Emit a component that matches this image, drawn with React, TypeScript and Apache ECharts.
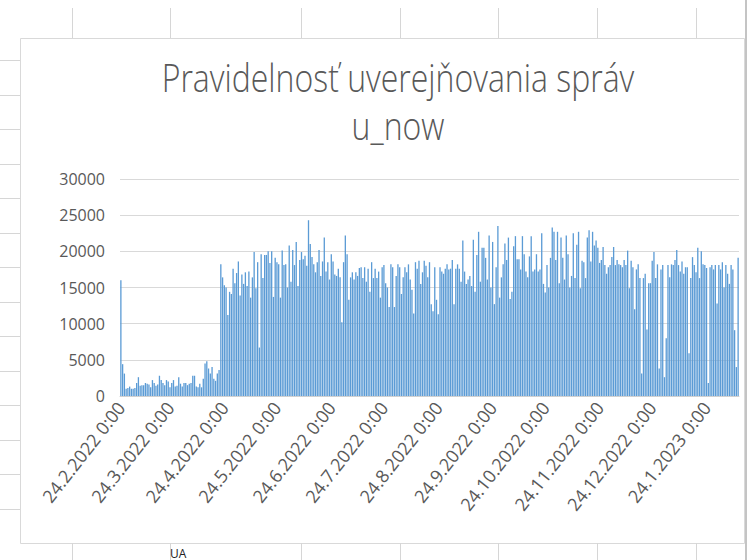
import React, { useEffect, useRef } from "react";
import * as echarts from "echarts";

// Daily message counts from 24.2.2022 (segment by segment)
const lowPeriod = [
  16000, 4400, 3100, 1000, 1100, 1300, 1000, 1000, 1100, 1800,
  2600, 1400, 1500, 1500, 1800, 1700, 1600, 1200, 2200, 1800,
  1400, 1600, 2800, 2200, 1800, 1500, 2200, 2000, 1200, 1800,
  2200, 1300, 1400, 2600, 1700, 1300, 1800, 1800, 1500, 1700,
  1800, 2800, 2800, 1300, 1200, 1700, 1200, 2400, 4500, 4800,
  3800, 3100, 4000, 2400, 2100, 3100, 3600,
];
const aprMay = [
  18200, 16400, 15300, 15000, 11200, 14400, 14100, 17600, 15600, 17000,
  18600, 13900, 16800, 15500, 17100, 15200, 17200, 13600, 16400, 19900,
  14900, 18500, 6700, 19600, 16300, 19500, 19500, 20000, 18400, 20000,
  13700,
];
const mayJul = [
  19100, 18500, 18200, 13600, 20100, 18100, 18200, 15000, 20800, 15800,
  20200, 18100, 21300, 15200, 18800, 19900, 18900, 19400, 18000, 24300,
  21000, 19200, 18200, 17100, 18500, 20200, 16600, 18600, 21900, 17200,
  18500, 16100, 19600, 18600, 16800, 16600, 17600, 16400, 10200, 18500,
  22200, 19600, 13300, 16400,
];
const julAug = [
  17100, 16100, 17100, 16600, 17700, 17800, 16300, 17800, 15800, 17600,
  14400, 18500, 16300, 17600, 16300, 17200, 13600, 17800, 18100, 15600,
  15000, 12300, 18200, 17800, 12300, 16600, 18200, 17800, 14100, 16400,
  17800, 17100, 18200, 16100, 14700, 11400, 18500, 17600, 18700, 15500,
  17100, 18700, 18000, 16400, 18500,
];
const augOct = [
  12700, 11700, 17800, 13300, 11300, 17800, 17200, 16900, 17600, 18200,
  17500, 17600, 18800, 12700, 17600, 18200, 17600, 15800, 21500, 17200,
  15500, 16100, 16600, 15200, 21600, 14400, 19500, 22700, 15800, 20500,
  20500, 19100, 16100, 22200, 15000, 21300, 12700, 17800, 23500, 13600,
  16400, 18200, 21100, 18800, 21900,
];
const octNov = [
  13400, 14400, 20700, 22100, 18900, 18900, 17500, 22100, 19600, 17200,
  16400, 19300, 22100, 17200, 17500, 19600, 17200, 17500, 22500, 15500,
  14300, 18100, 15000, 19100, 23300, 22700, 18800, 22700, 15600, 21900,
  19100, 16100, 22200, 19600, 15000, 16600, 22500, 16300, 20900, 22700,
  14900, 18700, 18500, 16300,
];
const novDec = [
  21900, 22900, 18600, 22700, 20800, 21500, 20500, 18400, 18800, 20600,
  18100, 16900, 17800, 18100, 19200, 20600, 18100, 18800, 18200, 18100,
  17800, 18800, 18100, 20100, 14900, 18700, 17800, 12000, 17500, 18200,
  16300, 3100, 16300, 16900, 9200, 15600, 15600, 18700, 19900, 16300,
  18200, 3800, 17500, 18100, 2600,
];
const decFeb = [
  8000, 18100, 16400, 18200, 18100, 18800, 20200, 18100, 17200, 18600,
  16900, 17800, 17800, 5900, 16300, 19200, 18100, 17100, 20500, 16300,
  20000, 18200, 18100, 17700, 1800, 17800, 18100, 17500, 18100, 12800,
  18100, 17500, 18500, 15000, 18100, 16900, 15500, 18100, 17500, 9100,
  4000, 19100,
];

const values = [
  ...lowPeriod, ...aprMay, ...mayJul, ...julAug,
  ...augOct, ...octNov, ...novDec, ...decFeb,
];

const START = { year: 2022, month: 2, day: 24 };
const yTicks = [0, 5000, 10000, 15000, 20000, 25000, 30000];
const titleLines = ["Pravidelnosť uverejňovania správ", "u_now"];

const categories = values.map((_, i) => {
  const d = new Date(START.year, START.month - 1, START.day + i);
  return `${d.getDate()}.${d.getMonth() + 1}.${d.getFullYear()} 0:00`;
});
const isMonthTick = (_i: number, v: string) => v.startsWith("24.");

// spreadsheet decoration positions
const colLines = [72, 170, 301, 400, 498, 597, 696];
const rowLines = [60, 95, 129, 164, 198, 233, 267, 302, 336, 371, 405, 440, 474, 509];

export default function App() {
  const ref = useRef<HTMLDivElement>(null);
  useEffect(() => {
    if (!ref.current) return;
    const chart = echarts.init(ref.current, null, { renderer: "svg" });
    const cellLine = { stroke: "#d6d6d6", lineWidth: 1 };
    const graphics: any[] = [];
    colLines.forEach((x) => {
      graphics.push({ type: "line", shape: { x1: x + 0.5, y1: 8, x2: x + 0.5, y2: 38 }, style: cellLine, silent: true });
      graphics.push({ type: "line", shape: { x1: x + 0.5, y1: 543, x2: x + 0.5, y2: 560 }, style: cellLine, silent: true });
    });
    rowLines.forEach((y) => {
      graphics.push({ type: "line", shape: { x1: 0, y1: y + 0.5, x2: 20, y2: y + 0.5 }, style: cellLine, silent: true });
    });
    graphics.push({
      type: "rect",
      shape: { x: 20.5, y: 38.5, width: 724, height: 505 },
      style: { fill: "none", stroke: "#d9d9d9", lineWidth: 1 },
      silent: true,
      z: -1,
    });
    graphics.push({
      type: "line",
      shape: { x1: 746, y1: 0, x2: 746, y2: 560 },
      style: { stroke: "#c4c4c4", lineWidth: 2 },
      silent: true,
    });
    graphics.push({
      type: "text",
      x: 170,
      y: 547,
      style: { text: "UA", fill: "#222", font: "12px 'Open Sans', sans-serif" },
      silent: true,
    });
    const titleY = [77, 125];
    titleLines.forEach((t, i) => {
      graphics.push({
        type: "text",
        x: 398,
        y: titleY[i],
        scaleY: 1.22,
        style: {
          text: t,
          align: "center",
          verticalAlign: "middle",
          fill: "#595959",
          font: "300 32px 'Open Sans', sans-serif",
        },
        silent: true,
      });
    });

    chart.setOption({
      animation: false,
      backgroundColor: "#ffffff",
      graphic: graphics,
      grid: { left: 120, right: 13, top: 179, bottom: 164 },
      xAxis: {
        type: "category",
        data: categories,
        boundaryGap: true,
        axisLine: { lineStyle: { color: "#d0d0d0", width: 1 } },
        axisTick: {
          interval: isMonthTick,
          alignWithLabel: true,
          length: 5,
          lineStyle: { color: "#d0d0d0" },
        },
        axisLabel: {
          interval: isMonthTick,
          rotate: 52,
          margin: 8,
          color: "#595959",
          fontFamily: "'Open Sans', sans-serif",
          fontSize: 18,
        },
        splitLine: { show: false },
      },
      yAxis: {
        type: "value",
        min: yTicks[0],
        max: yTicks[yTicks.length - 1],
        interval: 5000,
        axisLine: { show: false },
        axisTick: { show: false },
        axisLabel: {
          margin: 15,
          color: "#595959",
          fontFamily: "'Open Sans', sans-serif",
          fontSize: 16,
          formatter: (v: number) => String(v),
        },
        splitLine: { lineStyle: { color: "#d9d9d9", width: 1 } },
      },
      series: [
        {
          type: "bar",
          data: values,
          barCategoryGap: "25%",
          itemStyle: { color: "#5b9bd5" },
          silent: true,
        },
      ],
    });
    return () => chart.dispose();
  }, []);
  return (
    <div
      ref={ref}
      style={{ position: "absolute", left: 0, top: 0, width: 752, height: 560 }}
    />
  );
}
